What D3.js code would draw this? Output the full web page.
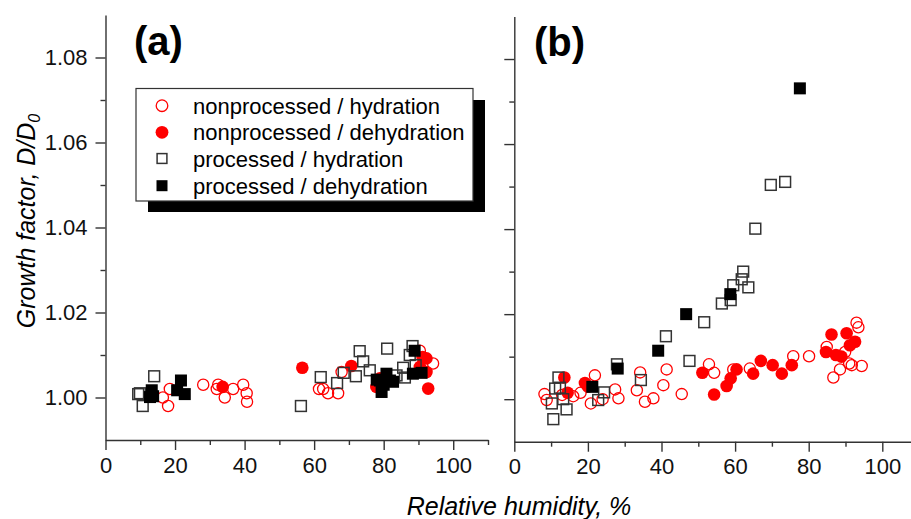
<!DOCTYPE html>
<html>
<head>
<meta charset="utf-8">
<script src="https://cdn.jsdelivr.net/npm/d3@7"></script>
<style>
  html, body { margin: 0; padding: 0; background: #fff; }
  svg { display: block; font-family: "Liberation Sans", Arial, sans-serif; }
  .axis path, .axis line { stroke: #333; stroke-width: 1.4; }
  .axis text { font-size: 22px; fill: #111; font-family: "Liberation Sans", Arial, sans-serif; }
</style>
</head>
<body>
<svg id="chart" width="911" height="519"></svg>
<script>
// Tick values
const xMajorTicks = [0, 20, 40, 60, 80, 100];
const xMinorTicks = [10, 30, 50, 70, 90, 110];
const yMajorTicks = [1.00, 1.02, 1.04, 1.06, 1.08];
const yMinorTicks = [1.01, 1.03, 1.05, 1.07];

const seriesNames = [
  "nonprocessed / hydration",
  "nonprocessed / dehydration",
  "processed / hydration",
  "processed / dehydration"
];

// Panel (a): relative humidity (%) and growth factor D/D0
const aNonHydRH = [16.5, 18, 18.5, 28.1, 32, 32.4, 34.3, 36.7, 39.6, 40.6, 40.7, 61.4, 62.6, 64, 66.9, 67.9, 90.4, 94.2];
const aNonHydGF = [1.000, 0.998, 1.002, 1.003, 1.002, 1.003, 1.000, 1.002, 1.003, 1.001, 0.999, 1.002, 1.002, 1.001, 1.001, 1.006, 1.011, 1.008];

const aNonDehRH = [33.7, 56.6, 70.7, 77.9, 78.9, 90.4, 91.2, 92.3, 92.3, 92.8];
const aNonDehGF = [1.0025, 1.007, 1.0074, 1.0025, 1.0045, 1.0072, 1.0095, 1.0092, 1.006, 1.0021];

const aProHydRH = [9.4, 9.9, 10.7, 14.0, 56.2, 61.9, 66.6, 68.5, 72, 73.1, 74.1, 76, 81, 83.7, 85.6, 86.1, 87.5, 88.3, 89.2];
const aProHydGF = [1.0008, 1.001, 0.998, 1.005, 0.998, 1.0048, 1.0034, 1.0058, 1.005, 1.0109, 1.0085, 1.0064, 1.0115, 1.0052, 1.007, 1.0047, 1.010, 1.0121, 1.0076];

const aProDehRH = [12.8, 13.3, 13.7, 20.6, 21.7, 22.8, 78, 78.9, 79.4, 80, 80.8, 81.8, 82.7, 88.4, 88.9, 90.9];
const aProDehGF = [1.0001, 1.0017, 1.0003, 1.0017, 1.004, 1.0008, 1.0042, 1.004, 1.0013, 1.003, 1.0056, 1.004, 1.0037, 1.0056, 1.011, 1.0058];

// Panel (b)
const bNonHydRH = [8.2, 8.8, 13, 16, 18, 20.8, 21.9, 24, 27.4, 28.3, 33.3, 34.2, 35.5, 37.8, 40.5, 41.4, 45.5, 52.9, 54.3, 59.5, 64, 75.8, 80.1, 84.9, 86.7, 88.5, 89.9, 91, 91.7, 93, 93.5, 94.4];
const bNonHydGF = [1.0012, 0.9998, 1.001, 1.0007, 1.0015, 0.999, 1.0056, 1.000, 1.0023, 1.0002, 1.0021, 1.0063, 0.9994, 1.0002, 1.0033, 1.007, 1.0012, 1.0082, 1.0062, 1.007, 1.0072, 1.0101, 1.0101, 1.0123, 1.0051, 1.007, 1.0111, 1.0084, 1.008, 1.018, 1.0169, 1.0078];

const bNonDehRH = [13.6, 14.5, 19.2, 20, 51.1, 54.3, 57.7, 58.8, 60.4, 64.9, 67, 70.2, 72.7, 75.4, 84.7, 86.2, 87.4, 88.9, 90.3, 91.2, 92.6];
const bNonDehGF = [1.0051, 1.0015, 1.0038, 1.003, 1.0062, 1.0011, 1.0031, 1.0049, 1.007, 1.006, 1.009, 1.008, 1.006, 1.008, 1.0111, 1.0152, 1.0104, 1.010, 1.0155, 1.0127, 1.0135];

const bProHydRH = [10.2, 10.6, 11.1, 12, 12.4, 13.3, 14.2, 22.8, 24.4, 27.9, 34.4, 41.2, 47.6, 51.6, 56.4, 58.8, 59.5, 61.8, 62.2, 63.6, 65.5, 69.7, 73.6];
const bProHydGF = [0.999, 0.9953, 1.0025, 1.0051, 1.0027, 1.000, 0.9976, 0.9998, 1.0016, 1.0082, 1.0045, 1.0148, 1.009, 1.0181, 1.0225, 1.0233, 1.0268, 1.0282, 1.030, 1.0263, 1.0401, 1.0504, 1.0511];

const bProDehRH = [21.2, 28.1, 39.1, 46.7, 58.7, 77.6];
const bProDehGF = [1.0029, 1.0072, 1.0114, 1.020, 1.0247, 1.0731];

const svg = d3.select("#chart");

// Marker drawing per series index: 0 open circle, 1 filled circle, 2 open square, 3 filled square
function drawMarker(g, kind, cx, cy, legend) {
  if (kind === 0) {
    g.append("circle").attr("cx", cx).attr("cy", cy).attr("r", legend ? 5.8 : 5.6)
      .attr("fill", "none").attr("stroke", "#ff0000").attr("stroke-width", 1.3);
  } else if (kind === 1) {
    g.append("circle").attr("cx", cx).attr("cy", cy).attr("r", legend ? 6.4 : 6.3)
      .attr("fill", "#ff0000");
  } else if (kind === 2) {
    const s = legend ? 9.8 : 10.8;
    g.append("rect").attr("x", cx - s / 2).attr("y", cy - s / 2).attr("width", s).attr("height", s)
      .attr("fill", "none").attr("stroke", "#333").attr("stroke-width", 1.5);
  } else {
    const s = legend ? 11 : 12;
    g.append("rect").attr("x", cx - s / 2).attr("y", cy - s / 2).attr("width", s).attr("height", s)
      .attr("fill", "#000");
  }
}

function drawPanel(cfg) {
  const x = d3.scaleLinear().domain([0, 110]).range(cfg.xRange);
  const y = d3.scaleLinear().domain([0.99, 1.09]).range(cfg.yRange);
  const g = svg.append("g");

  // x axis: major and minor ticks
  g.append("g").attr("class", "axis").attr("transform", `translate(0,${cfg.yRange[0]})`)
    .call(d3.axisBottom(x).tickValues(xMajorTicks).tickSize(10).tickPadding(7).tickSizeOuter(0).tickFormat(d3.format("d")));
  g.append("g").attr("class", "axis").attr("transform", `translate(0,${cfg.yRange[0]})`)
    .call(d3.axisBottom(x).tickValues(xMinorTicks).tickSize(5).tickSizeOuter(0).tickFormat(""))
    .select(".domain").remove();

  // y axis
  g.append("g").attr("class", "axis").attr("transform", `translate(${cfg.xRange[0]},0)`)
    .call(d3.axisLeft(y).tickValues(yMajorTicks).tickSize(10).tickPadding(8).tickSizeOuter(0)
      .tickFormat(cfg.yLabels ? d3.format(".2f") : ""));
  g.append("g").attr("class", "axis").attr("transform", `translate(${cfg.xRange[0]},0)`)
    .call(d3.axisLeft(y).tickValues(yMinorTicks).tickSize(5).tickSizeOuter(0).tickFormat(""))
    .select(".domain").remove();

  // data points, drawn in series order
  const pts = g.append("g");
  cfg.series.forEach((s, k) => {
    s.rh.forEach((v, i) => drawMarker(pts, k, x(v), y(s.gf[i]), false));
  });

  // panel label
  g.append("text").attr("x", cfg.labelX).attr("y", cfg.labelY)
    .attr("font-size", 40).attr("font-weight", "bold").attr("fill", "#000")
    .text(cfg.label);
}

drawPanel({
  xRange: [105.5, 488],
  yRange: [440, 15],
  yLabels: true,
  label: "(a)", labelX: 134, labelY: 55,
  series: [
    { rh: aNonHydRH, gf: aNonHydGF },
    { rh: aNonDehRH, gf: aNonDehGF },
    { rh: aProHydRH, gf: aProHydGF },
    { rh: aProDehRH, gf: aProDehGF }
  ]
});

drawPanel({
  xRange: [514.3, 919.1],
  yRange: [441.7, 16.5],
  yLabels: false,
  label: "(b)", labelX: 534, labelY: 56,
  series: [
    { rh: bNonHydRH, gf: bNonHydGF },
    { rh: bNonDehRH, gf: bNonDehGF },
    { rh: bProHydRH, gf: bProHydGF },
    { rh: bProDehRH, gf: bProDehGF }
  ]
});

// Legend with drop shadow
const lg = svg.append("g");
lg.append("rect").attr("x", 148).attr("y", 100).attr("width", 337).attr("height", 112).attr("fill", "#000");
lg.append("rect").attr("x", 136).attr("y", 88.5).attr("width", 337).attr("height", 112.5)
  .attr("fill", "#fff").attr("stroke", "#333").attr("stroke-width", 1.2);
const rowY = [105.7, 132.3, 158.5, 185.7];
seriesNames.forEach((name, k) => {
  drawMarker(lg, k, 162, rowY[k], true);
  lg.append("text").attr("x", 193).attr("y", rowY[k] + 8)
    .attr("font-size", 22).attr("fill", "#000").text(name);
});

// Axis titles
svg.append("text").attr("x", 519).attr("y", 515).attr("text-anchor", "middle")
  .attr("font-size", 25).attr("font-style", "italic").attr("fill", "#000")
  .text("Relative humidity, %");

const yt = svg.append("text").attr("transform", "translate(35,221) rotate(-90)")
  .attr("text-anchor", "middle").attr("font-size", 25).attr("font-style", "italic").attr("fill", "#000");
yt.append("tspan").text("Growth factor, D/D");
yt.append("tspan").attr("font-size", 16).attr("dy", 5).text("0");
</script>
</body>
</html>
